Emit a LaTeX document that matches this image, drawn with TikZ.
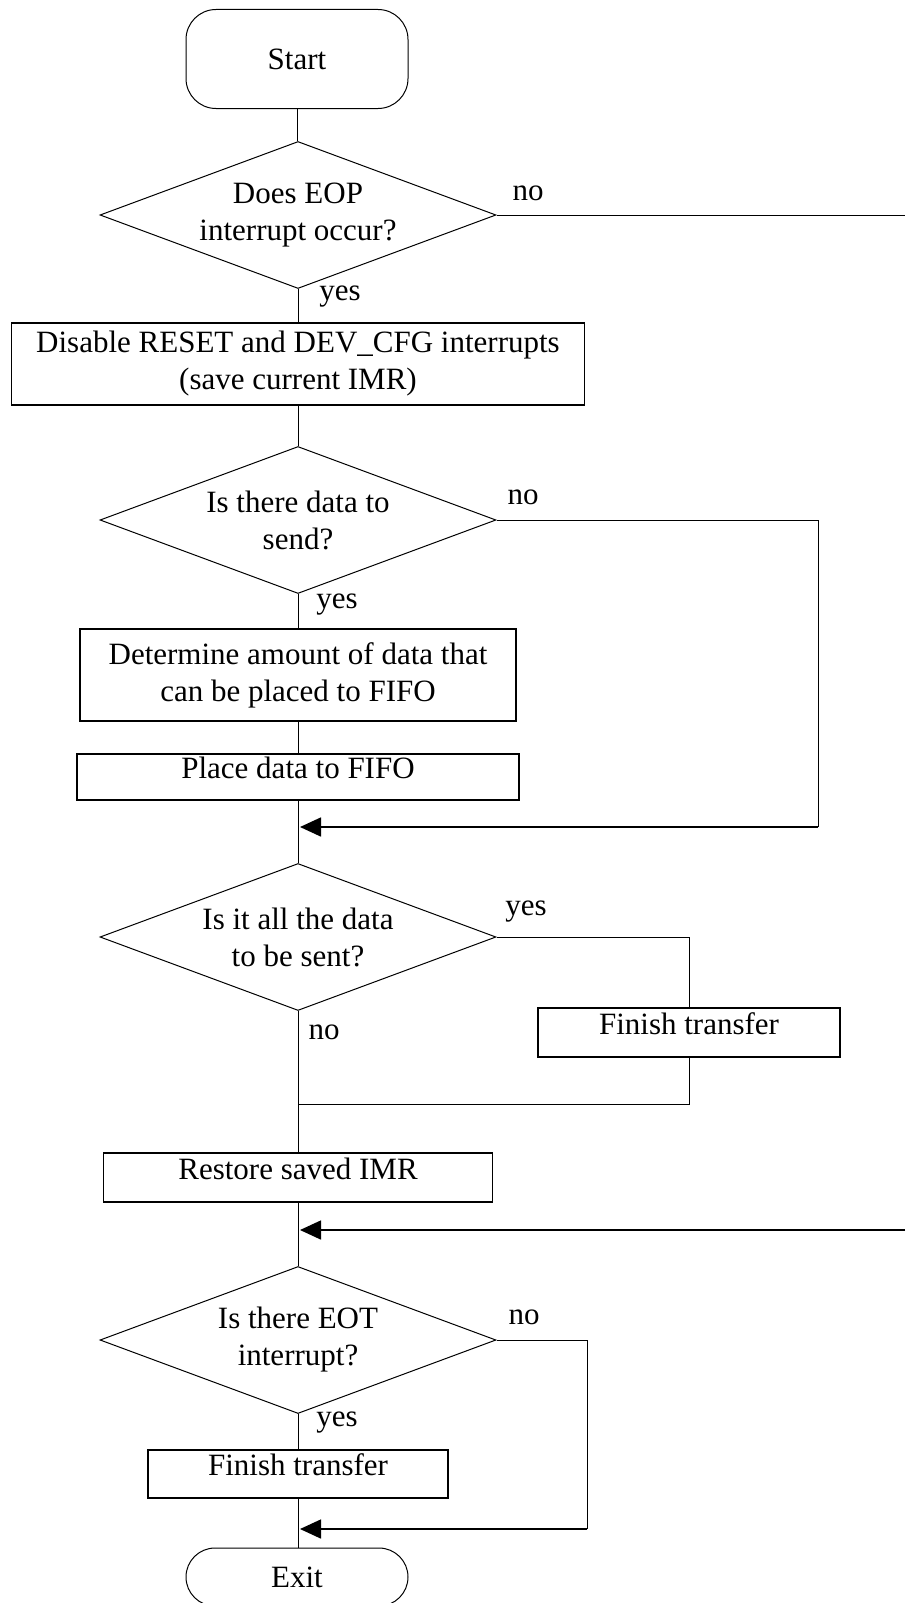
\documentclass[tikz,border=0pt]{standalone}
\usepackage{fontspec}
\setmainfont{Liberation Serif}
\usetikzlibrary{arrows.meta}
\usetikzlibrary{shapes.geometric}

\begin{document}
\begin{tikzpicture}[x=1pt, y=-1pt, line width=1pt,
  font=\fontsize{31}{37}\selectfont,
  % shapes of the chart
  terminal/.style={draw, rounded corners=30pt, minimum width=222pt, inner sep=0pt},
  decision/.style={draw, diamond, aspect=2.7, minimum width=396pt,
    minimum height=147pt, inner sep=0pt, align=center},
  process/.style={draw, line width=1.2pt, inner sep=0pt, align=center},
  oneline/.style={process, text height=0.68em, text depth=0.36em},
  answer/.style={inner sep=0pt},
  % return lines with filled arrow heads
  back/.style={line width=1.6pt, -{Triangle[length=21pt,width=19pt]}}]
\useasboundingbox (0,0) rectangle (905,1603);
% nodes on the main line
\node[terminal, minimum height=99pt] (start) at (297,59) {Start};
\node[decision] (eop) at (298,215) {Does EOP\\interrupt occur?};
\node[process, minimum width=573pt, minimum height=82pt] (disable) at (298,364)
  {Disable RESET and DEV\_CFG interrupts\\(save current IMR)};
\node[decision] (data) at (298,520) {Is there data to\\send?};
\node[process, minimum width=436pt, minimum height=92pt] (amount) at (298,675)
  {Determine amount of data that\\can be placed to FIFO};
\node[oneline, minimum width=442pt, minimum height=46pt] (place) at (298,777)
  {Place data to FIFO};
\node[decision] (all) at (298,937) {Is it all the data\\to be sent?};
\node[oneline, minimum width=302pt, minimum height=49pt] (finA) at (689,1032.5)
  {Finish transfer};
\node[oneline, minimum width=389pt, minimum height=49pt] (restore) at (298,1177.5)
  {Restore saved IMR};
\node[decision] (eot) at (298,1340) {Is there EOT\\interrupt?};
\node[oneline, minimum width=300pt, minimum height=48pt] (finB) at (298,1474)
  {Finish transfer};
\node[terminal, rounded corners=29pt, minimum height=58pt] (exit) at (297,1577) {Exit};
% corner points
\coordinate (eopout) at (905,215);
\coordinate (eopin) at (905,1230);
\coordinate (dataturn) at (818,827);
\coordinate (eotturn) at (587,1529);
\coordinate (joinA) at (300,827);
\coordinate (joinB) at (298,1104);
\coordinate (joinC) at (300,1230);
\coordinate (joinD) at (300,1529);
% main line
\draw (start) -- (start |- eop.north);
\draw (eop) -- (disable);
\draw (disable) -- (data);
\draw (data) -- (amount);
\draw (amount) -- (place);
\draw (place) -- (all);
\draw (all) -- (restore);
\draw (restore) -- (eot);
\draw (eot) -- (finB);
\draw (finB) -- (finB |- exit.north);
% branches
\draw (eop.east) -- (eopout);
\draw[back] (eopin) -- (joinC);
\draw (data.east) -| (dataturn);
\draw[back] (dataturn) -- (joinA);
\draw (all.east) -| (finA.north);
\draw (finA.south) |- (joinB);
\draw (eot.east) -| (eotturn);
\draw[back] (eotturn) -- (joinD);
% answers
\node[answer] (no1) at (528,193) {no};
\node[answer] (yes1) at (340,297) {yes};
\node[answer] (no2) at (523,497) {no};
\node[answer] (yes2) at (337,605) {yes};
\node[answer] (yes3) at (526,912) {yes};
\node[answer] (no3) at (324,1032) {no};
\node[answer] (no4) at (524,1317) {no};
\node[answer] (yes4) at (337,1423) {yes};
\end{tikzpicture}
\end{document}
